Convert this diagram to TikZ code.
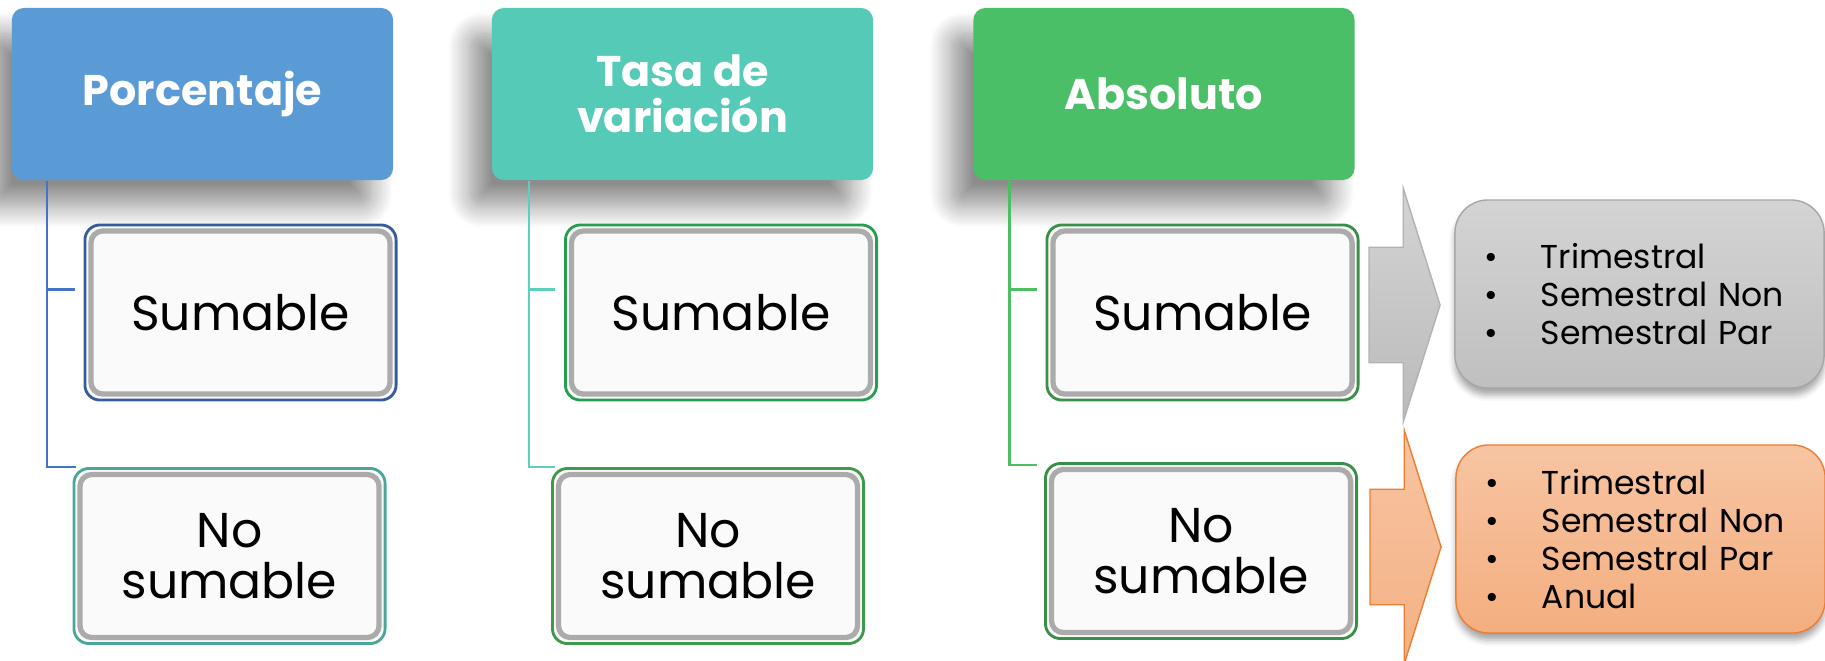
\documentclass[tikz,border=0pt]{standalone}
\usepackage{fontspec}
\setmainfont{Poppins}
\usetikzlibrary{positioning,shapes.arrows,shadows.blur}

\definecolor{pblue}{HTML}{5B9BD5}
\definecolor{tteal}{HTML}{55CAB7}
\definecolor{agreen}{HTML}{4ABF68}
\definecolor{lblue}{HTML}{4472C4}
\definecolor{lteal}{HTML}{5CCFBD}
\definecolor{lgreen}{HTML}{4CBF5E}
\definecolor{oline}{HTML}{ED7D31}
\newcommand{\itm}[1]{\makebox[0.56cm][l]{\textbullet}#1}

\begin{document}
\begin{tikzpicture}[x=0.01cm,y=-0.01cm,
    head/.style={rectangle, rounded corners=0.12cm, minimum width=3.81cm, minimum height=1.72cm,
      text=white, align=center, font=\bfseries\fontsize{12.2}{13.1}\selectfont,
      blur shadow={shadow xshift=-0.22cm, shadow yshift=-0.26cm, shadow blur radius=0.22cm,
        shadow blur steps=16, shadow opacity=45}},
    sub/.style={rectangle, rounded corners=0.15cm, draw=#1, line width=0.8pt, fill=black!2,
      minimum width=3.11cm, minimum height=1.75cm, align=center, font=\fontsize{13.9}{14.5}\selectfont,
      path picture={\draw[black!33, line width=1.5pt, rounded corners=0.12cm]
        ([shift={(0.06cm,-0.06cm)}]path picture bounding box.north west) rectangle
        ([shift={(-0.06cm,0.06cm)}]path picture bounding box.south east);}},
    link/.style={draw=#1, line width=0.7pt},
    listbox/.style={rectangle, rounded corners=0.33cm, minimum width=3.69cm, minimum height=1.88cm,
      inner xsep=0.3cm, text width=3.09cm, align=left, font=\fontsize{9.4}{10.8}\selectfont,
      blur shadow={shadow xshift=0cm, shadow yshift=-0.07cm, shadow blur radius=0.06cm, shadow opacity=35}},
    blockarrow/.style={single arrow, anchor=tail, inner xsep=0pt, inner ysep=0.57cm, outer sep=0pt,
      minimum height=0.71cm, single arrow head extend=0.59cm, single arrow tip angle=145}]
  \useasboundingbox (0,0) rectangle (1825,660);

  \node[head, fill=pblue](1) at (202.5,94) {Porcentaje};
  \node[head, fill=tteal](2) at (682.5,94) {Tasa de\\variación};
  \node[head, fill=agreen](3) at (1164,94) {Absoluto};

  \node[sub=lblue!80!black](11) at (240.5,312.5) {Sumable};
  \node[sub=lteal!80!black](12) at (229.5,556) {No\\sumable};
  \node[sub=lteal!60!green!70!black](21) at (721,312.5) {Sumable};
  \node[sub=lgreen!80!black](22) at (708,556) {No\\sumable};
  \node[sub=lgreen!75!black](31) at (1202.5,312.5) {Sumable};
  \node[sub=lgreen!75!black](32) at (1201,551) {No\\sumable};

  \draw[link=lblue] ([xshift=0.36cm]1.south west) |- ([xshift=-0.08cm,yshift=0.23cm]11.west);
  \draw[link=lblue] ([xshift=0.36cm]1.south west) |- ([xshift=0.03cm]12.north west);
  \draw[link=lteal] ([xshift=0.38cm]2.south west) |- ([xshift=-0.09cm,yshift=0.23cm]21.west);
  \draw[link=lteal] ([xshift=0.38cm]2.south west) |- ([xshift=0.04cm]22.north west);
  \draw[link=lgreen] ([xshift=0.37cm]3.south west) |- ([xshift=-0.09cm,yshift=0.23cm]31.west);
  \draw[link=lgreen] ([xshift=0.37cm]3.south west) |- ([xshift=-0.07cm,yshift=-0.03cm]32.north west);

  \node[blockarrow, draw=black!30, top color=black!17, bottom color=black!27](4) at (1369,305) {};
  \node[blockarrow, draw=oline, top color=oline!45!white, bottom color=oline!60!white](5) at (1370,547) {};

  \node[listbox, draw=black!35, top color=black!17, bottom color=black!25](6) at (1639.5,294)
    {\itm{Trimestral}\\\itm{Semestral Non}\\\itm{Semestral Par}};
  \node[listbox, draw=oline, top color=oline!45!white, bottom color=oline!62!white](7) at (1640.5,539)
    {\itm{Trimestral}\\\itm{Semestral Non}\\\itm{Semestral Par}\\\itm{Anual}};
\end{tikzpicture}
\end{document}
